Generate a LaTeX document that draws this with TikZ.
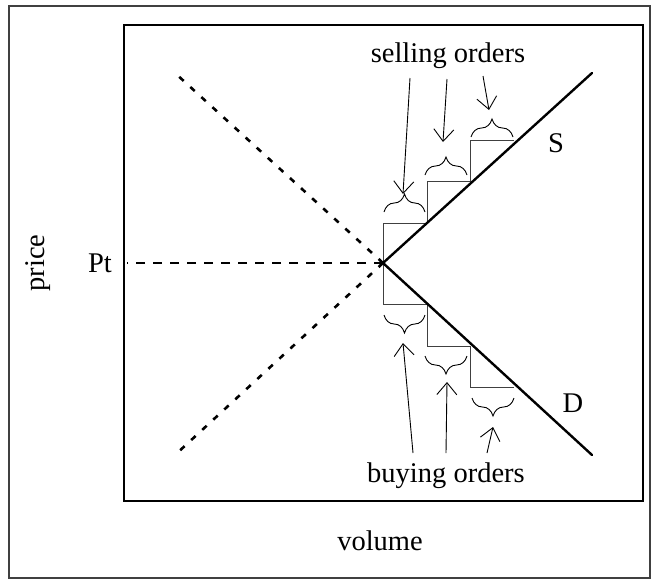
\documentclass[tikz,border=0pt]{standalone}
\usepackage{fontspec}
\setmainfont{Liberation Serif}
\usetikzlibrary{arrows.meta,decorations.pathreplacing}
\begin{document}
\begin{tikzpicture}[x=1pt,y=-1pt,
  lbl/.style={inner sep=0pt,font=\fontsize{28.5}{32}\selectfont},
  curve/.style={line width=2.4pt,line cap=round},
  dashcurve/.style={line width=2.6pt,dash pattern=on 6pt off 9pt},
  hdash/.style={line width=2.6pt,dash pattern=on 9pt off 8pt},
  stepline/.style={line width=1pt,draw=black!75},
  bracestyle/.style={line width=0.9pt,decorate,decoration={brace,amplitude=18pt}},
  pointer/.style={line width=0.9pt,-{Straight Barb[length=12pt,width=20pt,line width=0.9pt]}}]
\useasboundingbox (0,0) rectangle (653,581);
% frames
\draw[line width=1.2pt,draw=black!75] (9,6) rectangle (650,578);
\draw[line width=2.5pt] (124,25) rectangle (643,501);
% key points
\coordinate (v) at (383,263);
\coordinate (sEnd) at (592,73);
\coordinate (dEnd) at (592,455);
\coordinate (ulEnd) at (175,73);
\coordinate (llEnd) at (175,455);
\coordinate (hEnd) at (127,263);
% steps (supply)
\draw[stepline] (v) |- (427,223) |- (470,181) |- (514,140);
% steps (demand)
\draw[stepline] (v) |- (427,304) |- (470,346) |- (514,387);
% supply and demand lines
\draw[curve] (v) -- (sEnd);
\draw[curve] (v) -- (dEnd);
% dashed extensions
\draw[dashcurve] (v) -- (ulEnd);
\draw[dashcurve] (v) -- (llEnd);
\draw[hdash] (v) -- (hEnd);
% braces above
\draw[bracestyle] (384,212) -- (425,212);
\draw[bracestyle] (425,175) -- (467,175);
\draw[bracestyle] (471,137) -- (513,137);
% braces below
\draw[bracestyle] (425,315) -- (384,315);
\draw[bracestyle] (467,356) -- (425,356);
\draw[bracestyle] (514,398) -- (472,398);
% labels
\node[lbl] (sell) at (448,56) {selling orders};
\node[lbl] (buy) at (446,476) {buying orders};
\node[lbl] (S) at (556,143) {S};
\node[lbl] (D) at (573,403) {D};
\node[lbl] (Pt) at (100,263) {Pt};
\node[lbl,rotate=90] (price) at (38,263) {price};
\node[lbl] (vol) at (380,541) {volume};
% arrow anchors
\coordinate (sa1) at (410,78);
\coordinate (sa2) at (447,79);
\coordinate (sa3) at (483,76);
\coordinate (st1) at (403,194);
\coordinate (st2) at (443,142);
\coordinate (st3) at (489,110);
\coordinate (ba1) at (413,453);
\coordinate (ba2) at (446,453);
\coordinate (ba3) at (487,453);
\coordinate (bt1) at (403,343);
\coordinate (bt2) at (447,382);
\coordinate (bt3) at (493,427);
\draw[pointer] (sa1) -- (st1);
\draw[pointer] (sa2) -- (st2);
\draw[pointer] (sa3) -- (st3);
\draw[pointer] (ba1) -- (bt1);
\draw[pointer] (ba2) -- (bt2);
\draw[pointer] (ba3) -- (bt3);
\end{tikzpicture}
\end{document}
